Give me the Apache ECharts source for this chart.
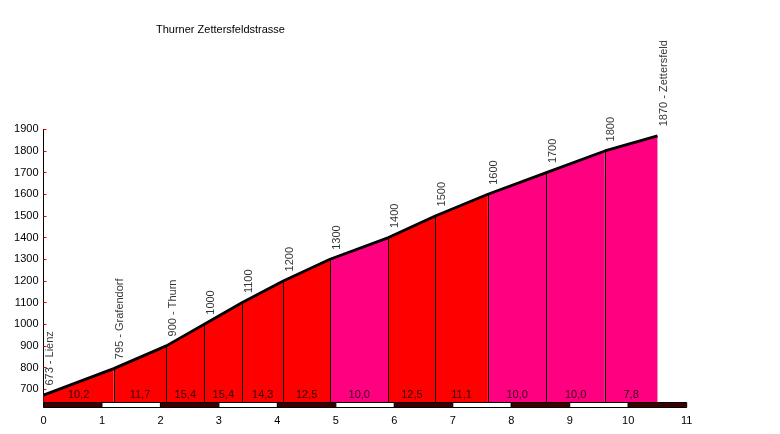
<!DOCTYPE html>
<html>
<head>
<meta charset="utf-8">
<script src="https://cdn.jsdelivr.net/npm/echarts@6/dist/echarts.min.js"></script>
<style>
html,body{margin:0;padding:0;background:#fff;overflow:hidden;}
#chart{width:780px;height:434px;}
</style>
</head>
<body>
<div id="chart"></div>
<script>
// ---- data ----
var title = 'Thurner Zettersfeldstrasse';
var distancesKm = [0, 1.2, 2.1, 2.75, 3.4, 4.1, 4.9, 5.9, 6.7, 7.6, 8.6, 9.6, 10.5];
var elevations = [673, 795, 900, 1000, 1100, 1200, 1300, 1400, 1500, 1600, 1700, 1800, 1870];
var placeNames = ['Lienz', 'Grafendorf', 'Thurn', '', '', '', '', '', '', '', '', '', 'Zettersfeld'];
var gradients = [10.2, 11.7, 15.4, 15.4, 14.3, 12.5, 10.0, 12.5, 11.1, 10.0, 10.0, 7.8];
var yTickValues = [700, 800, 900, 1000, 1100, 1200, 1300, 1400, 1500, 1600, 1700, 1800, 1900];
var kmTicks = [0, 1, 2, 3, 4, 5, 6, 7, 8, 9, 10, 11];

// ---- styles ----
var FONT = 'Arial, "Liberation Sans", sans-serif';
var Y_MIN = 641, Y_MAX = 1900, X_MAX = 11;
var RED = '#ff0000', PINK = '#ff0080';

var chart = echarts.init(document.getElementById('chart'), null, {renderer: 'canvas'});

var series = [];
// colored area per segment
for (var i = 0; i < gradients.length; i++) {
  series.push({
    type: 'line',
    data: [[distancesKm[i], elevations[i]], [distancesKm[i + 1], elevations[i + 1]]],
    symbol: 'none',
    lineStyle: {width: 0, opacity: 0},
    areaStyle: {color: gradients[i] > 10 ? RED : PINK, opacity: 1, origin: 'start'},
    z: 1,
    silent: true
  });
}
// vertical separators
series.push({
  type: 'custom',
  z: 2,
  silent: true,
  data: distancesKm.slice(1, distancesKm.length - 1).map(function (d, k) { return [d, elevations[k + 1]]; }),
  renderItem: function (params, api) {
    var top = api.coord([api.value(0), api.value(1)]);
    var bot = api.coord([api.value(0), Y_MIN]);
    var x = Math.round(top[0]) + 0.5;
    return {type: 'line', shape: {x1: x, y1: top[1], x2: x, y2: bot[1]}, style: {stroke: '#000', lineWidth: 1}};
  }
});
// profile line
series.push({
  type: 'line',
  data: distancesKm.map(function (d, k) { return [d, elevations[k]]; }),
  symbol: 'none',
  lineStyle: {color: '#000', width: 2.8},
  z: 3,
  silent: true
});
// rotated elevation labels
series.push({
  type: 'scatter',
  data: distancesKm.map(function (d, k) { return [d, elevations[k]]; }),
  symbolSize: 1,
  itemStyle: {color: 'transparent'},
  z: 4,
  silent: true,
  label: {
    show: true,
    position: [7, -9],
    rotate: 90,
    align: 'left',
    verticalAlign: 'middle',
    fontFamily: FONT,
    fontSize: 11,
    color: '#000',
    formatter: function (p) {
      var k = p.dataIndex;
      return placeNames[k] ? elevations[k] + ' - ' + placeNames[k] : String(elevations[k]);
    }
  }
});
// gradient labels
series.push({
  type: 'scatter',
  data: gradients.map(function (g, k) { return [(distancesKm[k] + distancesKm[k + 1]) / 2, Y_MIN, g]; }),
  symbolSize: 1,
  itemStyle: {color: 'transparent'},
  z: 4,
  silent: true,
  label: {
    show: true,
    position: 'top',
    distance: 1,
    fontFamily: FONT,
    fontSize: 11,
    color: '#000',
    formatter: function (p) { return gradients[p.dataIndex].toFixed(1).replace('.', ','); }
  }
});
// km scale bar
series.push({
  type: 'custom',
  z: 5,
  clip: false,
  silent: true,
  data: kmTicks.slice(0, kmTicks.length - 1).map(function (k) { return [k]; }),
  renderItem: function (params, api) {
    var k = api.value(0);
    var a = api.coord([k, Y_MIN]);
    var b = api.coord([k + 1, Y_MIN]);
    return {
      type: 'rect',
      shape: {x: a[0], y: a[1] + 0.5, width: b[0] - a[0], height: 5},
      style: {fill: (k % 2 === 0) ? '#3c0000' : '#ffffff', stroke: '#000', lineWidth: 1}
    };
  }
});

chart.setOption({
  animation: false,
  backgroundColor: '#fff',
  title: {
    text: title,
    left: 151,
    top: 19,
    textStyle: {fontFamily: FONT, fontSize: 11, fontWeight: 'normal', color: '#000'}
  },
  grid: {left: 43.5, right: 93.3, top: 129.3, bottom: 32, containLabel: false},
  xAxis: {
    type: 'value',
    min: 0,
    max: X_MAX,
    interval: 1,
    axisLine: {show: false},
    axisTick: {show: false},
    splitLine: {show: false},
    axisLabel: {margin: 13, fontFamily: FONT, fontSize: 11, color: '#000'}
  },
  yAxis: {
    type: 'value',
    min: Y_MIN,
    max: Y_MAX,
    axisLine: {show: true, lineStyle: {color: '#000', width: 1}},
    axisTick: {show: true, inside: true, length: 3, lineStyle: {color: '#ff0000'}, customValues: yTickValues},
    splitLine: {show: false},
    axisLabel: {margin: 5, fontFamily: FONT, fontSize: 11, color: '#000', customValues: yTickValues,
      formatter: function (v) { return String(v); }}
  },
  series: series
});
</script>
</body>
</html>
